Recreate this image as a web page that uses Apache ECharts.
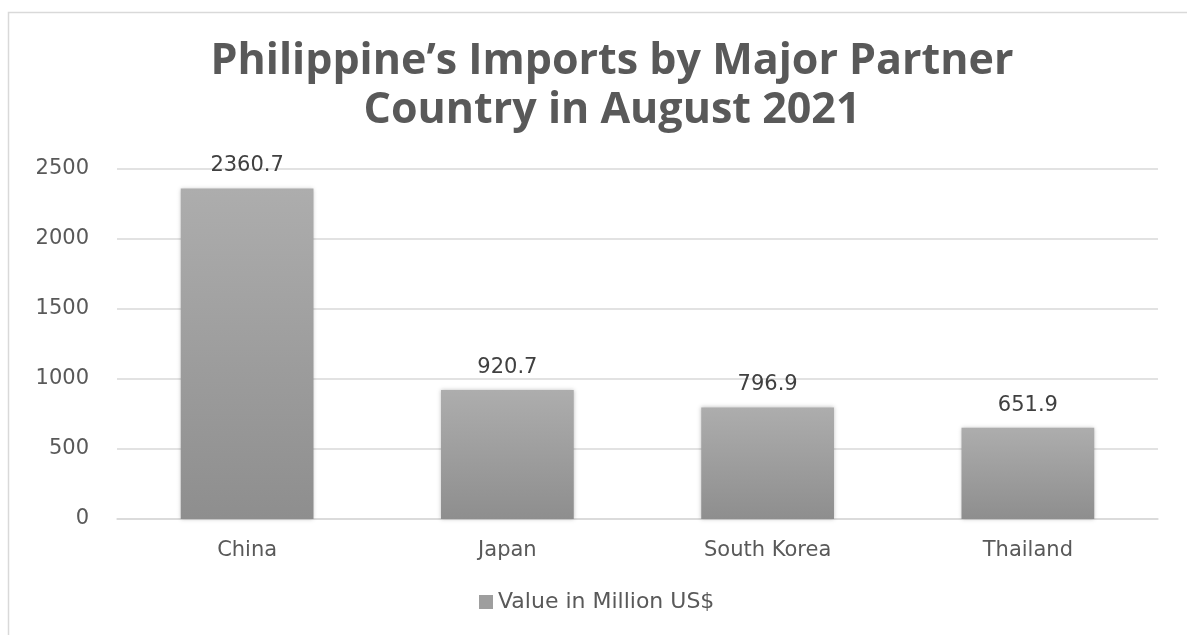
<!DOCTYPE html>
<html><head><meta charset="utf-8">
<script src="https://cdn.jsdelivr.net/npm/echarts@6/dist/echarts.min.js"></script>
<style>html,body{margin:0;padding:0;background:#fff}#c{width:1187px;height:635px}</style>
</head><body><div id="c"></div>
<script>
var categories = ['China', 'Japan', 'South Korea', 'Thailand'];
var values = [2360.7, 920.7, 796.9, 651.9];
var seriesName = 'Value in Million US$';
var titleText = 'Philippine\u2019s Imports by Major Partner\nCountry in August 2021';

var chart = echarts.init(document.getElementById('c'));
var barGrad = new echarts.graphic.LinearGradient(0, 0, 0, 1, [
  {offset: 0, color: '#adadad'}, {offset: 1, color: '#8e8e8e'}
]);
chart.setOption({
  animation: false,
  backgroundColor: '#fff',
  graphic: [{type: 'rect', shape: {x: 8.5, y: 12.5, width: 1190, height: 640},
    style: {fill: 'none', stroke: '#d9d9d9', lineWidth: 1.5}, z: -1}],
  title: {text: titleText, left: 607, textAlign: 'center', top: 32,
    textStyle: {fontFamily: 'Open Sans', fontWeight: 'bold', fontSize: 43, color: '#595959', lineHeight: 49}},
  legend: {bottom: 17, left: 474, itemWidth: 14, itemHeight: 14, icon: 'rect', itemGap: 6,
    textStyle: {fontFamily: 'DejaVu Sans', fontSize: 22, color: '#595959'},
    data: [{name: seriesName, itemStyle: {color: '#9e9e9e'}}]},
  grid: {left: 117, right: 29, top: 169, bottom: 116},
  xAxis: {type: 'category', data: categories,
    axisLine: {lineStyle: {color: '#d9d9d9', width: 1.5}}, axisTick: {show: false},
    axisLabel: {fontFamily: 'DejaVu Sans', fontSize: 21, color: '#595959', margin: 21}},
  yAxis: {type: 'value', min: 0, max: 2500, interval: 500,
    axisLine: {show: false}, axisTick: {show: false},
    splitLine: {lineStyle: {color: '#d9d9d9', width: 1.5}},
    axisLabel: {fontFamily: 'DejaVu Sans', fontSize: 21, color: '#595959', margin: 28,
      formatter: function (v) { return String(v); }}},
  series: [{name: seriesName, type: 'bar', data: values, barWidth: '51%',
    itemStyle: {color: barGrad, shadowColor: 'rgba(0,0,0,0.25)', shadowBlur: 4},
    label: {show: true, position: 'top', distance: 12, fontFamily: 'DejaVu Sans', fontSize: 21, color: '#404040'}}]
});
</script></body></html>
